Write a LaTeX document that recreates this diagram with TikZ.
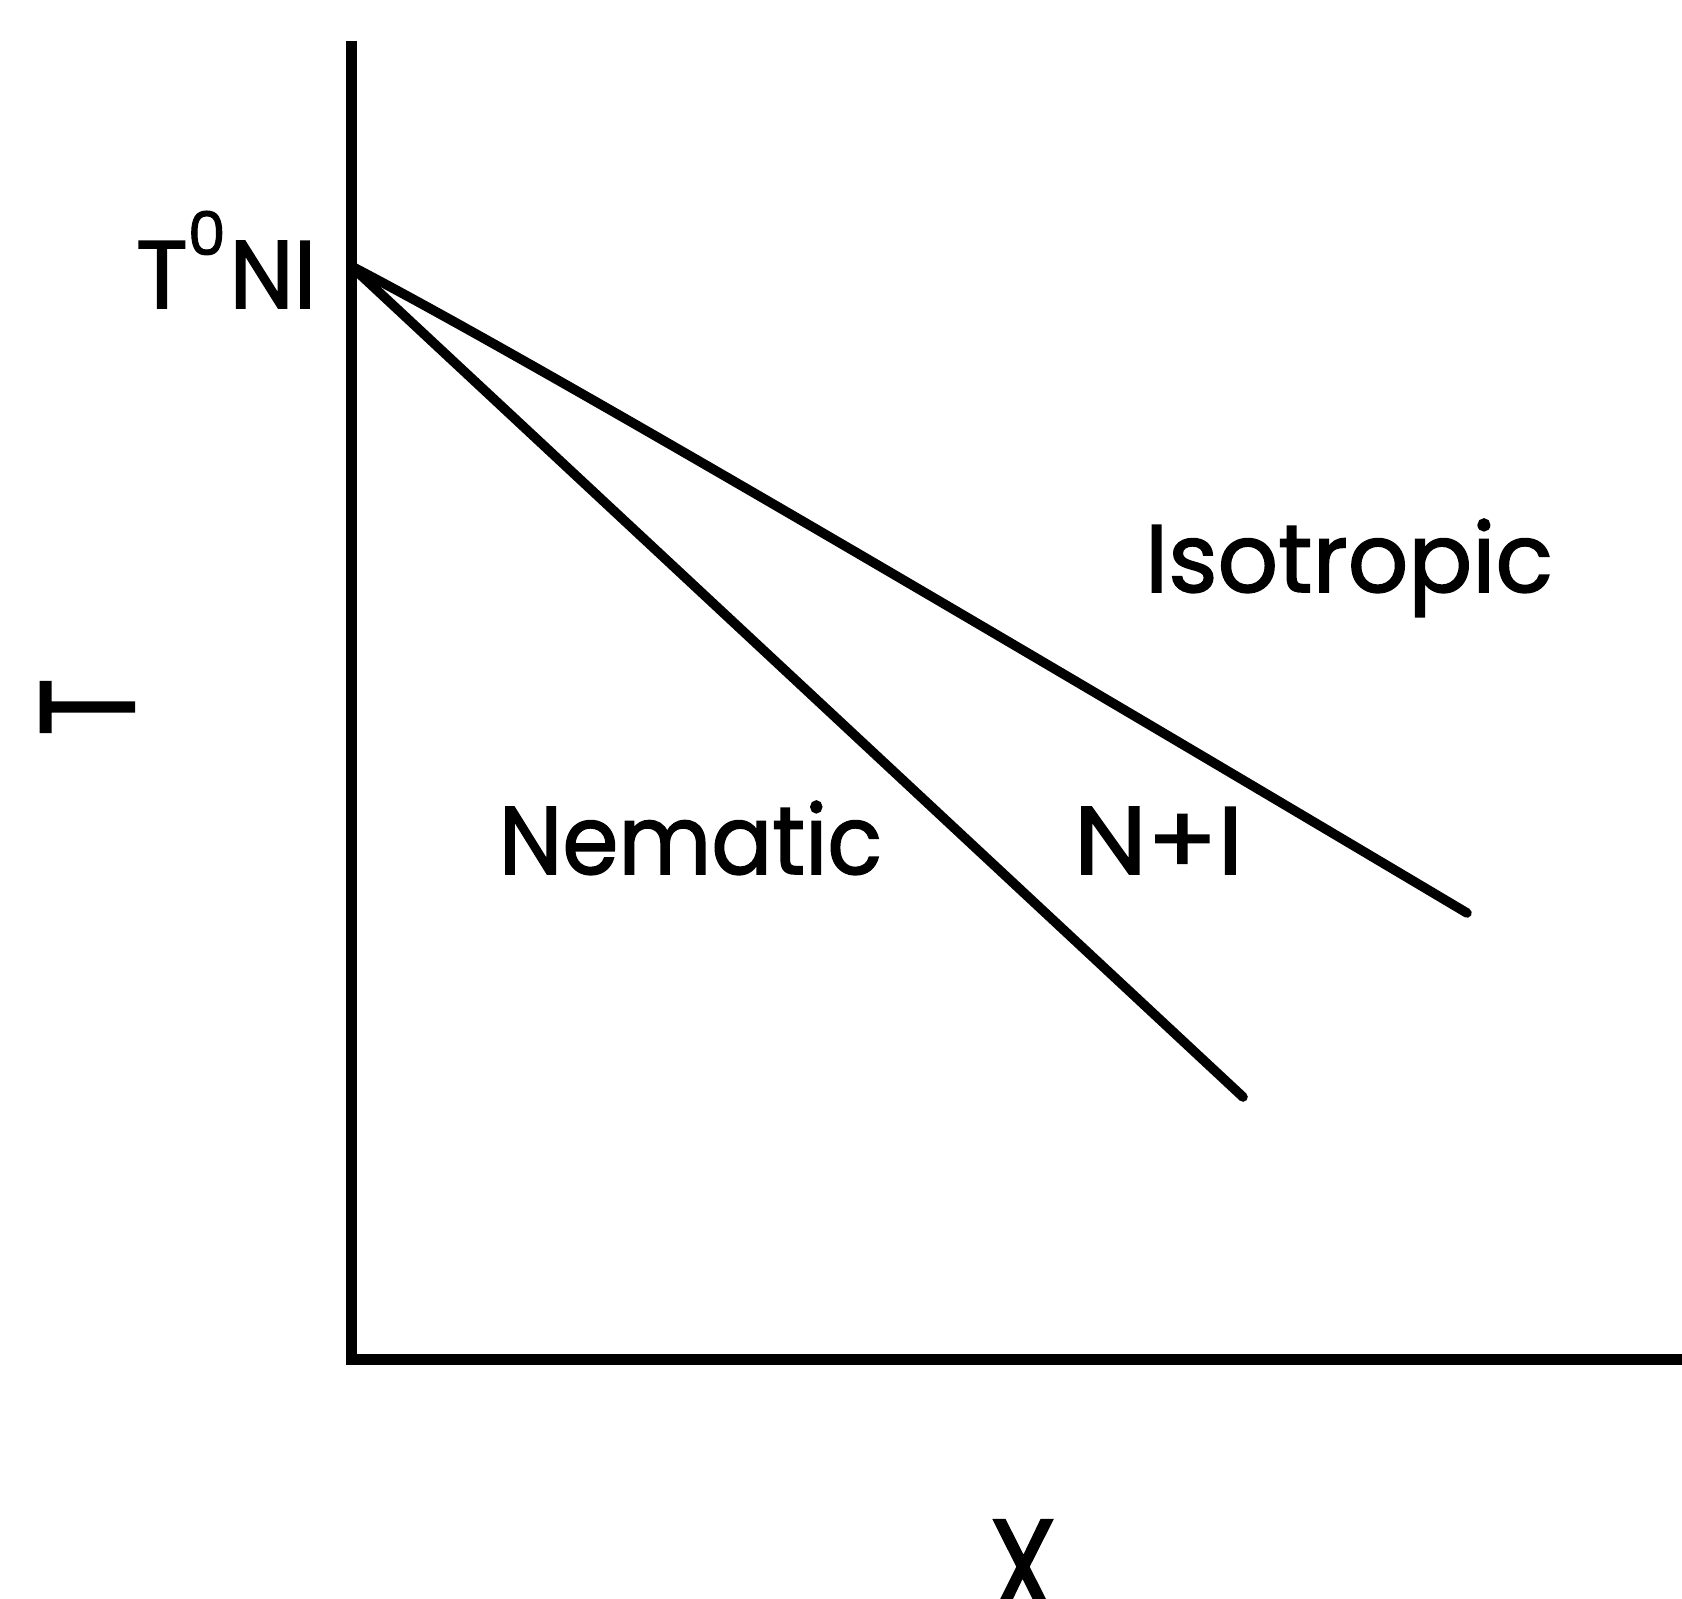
\documentclass[tikz,border=0pt]{standalone}
\usepackage{fontspec}
\setmainfont{Poppins}[FakeBold=1.6]
\begin{document}
\begin{tikzpicture}[x=0.5pt,y=-0.5pt,
  lbl/.style={inner sep=0pt, outer sep=0pt, font=\fontsize{48}{50}\selectfont},
  bigl/.style={inner sep=0pt, outer sep=0pt, font=\fontsize{67}{70}\selectfont},
  axisline/.style={line width=5.5pt, line cap=butt, line join=miter},
  phase/.style={line width=4.8pt, line cap=round, line join=round}]
\useasboundingbox[fill=white] (0,0) rectangle (1682,1599);
% axes
\coordinate (Ytop) at (351,41);
\coordinate (O) at (351,1359);
\coordinate (Xend) at (1682,1359);
\draw[axisline] (Ytop) -- (O) -- (Xend);
% phase boundaries
\coordinate (TNI) at (351,266);
\coordinate (Uend) at (1467,913);
\coordinate (Lend) at (1243,1097);
\draw[phase] (TNI) .. controls (503,345) and (875,561) .. (Uend);
\draw[phase] (TNI) -- (Lend);
% labels
\node[lbl, anchor=base west] (tni) at (136,308) {T\kern0pt\raisebox{26.5pt}{\fontsize{30}{30}\selectfont 0}\kern2pt\scalebox{0.95}[1]{NI}};
\node[lbl, anchor=base west] (iso) at (1145,592) {\scalebox{0.985}[1]{Isotropic}};
\node[lbl, anchor=base west] (nem) at (499,874) {\scalebox{0.94}[1]{Nematic}};
\node[lbl, anchor=base west] (ni) at (1074,874) {\scalebox{1.08}[1]{N+I}};
\node[bigl, rotate=90, anchor=base] (tax) at (134,707) {\scalebox{0.8}[1]{T}};
\node[bigl, anchor=north] (xax) at (1023,1520) {\scalebox{0.82}[1]{X}};
\end{tikzpicture}
\end{document}
